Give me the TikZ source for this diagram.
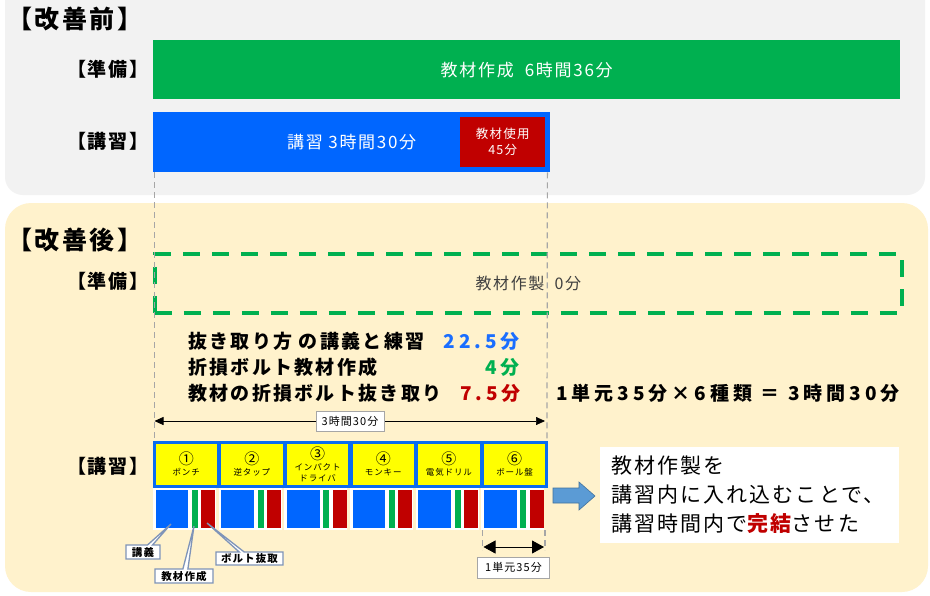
\documentclass[tikz,border=0pt]{standalone}
\usepackage{fontspec}
\setmainfont{Noto Sans CJK JP}[LetterSpace=10]
\usetikzlibrary{shapes.callouts,arrows.meta}
\definecolor{panelgray}{HTML}{F2F2F2}
\definecolor{cream}{HTML}{FFF2CC}
\definecolor{gbar}{HTML}{00B050}
\definecolor{bbar}{HTML}{0066FF}
\definecolor{rbar}{HTML}{C00000}
\definecolor{ybox}{HTML}{FFFF00}
\definecolor{yborder}{HTML}{0A6CF0}
\definecolor{guide}{HTML}{A6A6A6}
\definecolor{callb}{HTML}{7F94B8}
\definecolor{arrowfill}{HTML}{5B9BD5}
\definecolor{arrowline}{HTML}{41719C}
\definecolor{amtblue}{HTML}{1A6EFF}
\definecolor{dimgray}{HTML}{404040}
\begin{document}
\begin{tikzpicture}[x=1pt,y=-1pt,
 head/.style={font=\bfseries\fontsize{25}{28}\selectfont, inner sep=0, anchor=west},
 rowlbl/.style={font=\bfseries\fontsize{19}{22}\selectfont, inner sep=0, anchor=east},
 bar/.style={anchor=north west, inner sep=0, text=white, font=\fontsize{17}{20}\selectfont},
 guideline/.style={guide, line width=1.2, dash pattern=on 6 off 4},
 detail/.style={font=\bfseries\fontsize{19}{22}\selectfont\addfontfeatures{LetterSpace=12}, inner sep=0},
 amount/.style={font=\bfseries\fontsize{19}{22}\selectfont\addfontfeatures{LetterSpace=21}, inner sep=0},
 tool/.style={draw=yborder, line width=2.5, fill=ybox, minimum width=64, minimum height=44, anchor=north west, inner sep=0, align=center, font=\fontsize{8.5}{11}\selectfont},
 dimlbl/.style={draw=guide, fill=white, line width=0.8, font=\fontsize{11}{13}\selectfont, inner xsep=3, inner ysep=2},
 callbox/.style={rectangle callout, draw=callb, line width=1.3, fill=white, font=\bfseries\fontsize{10.5}{12}\selectfont, inner xsep=2, inner ysep=1.5, callout pointer width=5},
 dimarrow/.style={{Triangle[length=9,width=8]}-{Triangle[length=9,width=8]}, line width=0.7},
]
\useasboundingbox (0,0) rectangle (930,595);
\fill[white] (0,0) rectangle (930,595);
% panels
\fill[panelgray, rounded corners=18] (5,-30) rectangle (925,195);
\fill[cream, rounded corners=26] (5,203) rectangle (928,592);

% ===== before =====
\node[head] (hbefore) at (7,19) {【改善前】};
\node[rowlbl] (lprep1) at (149,69) {【準備】};
\node[rowlbl] (llec1) at (149,141) {【講習】};
\node[bar, fill=gbar, minimum width=747, minimum height=59] (prep1) at (153,40) {教材作成\ \ 6時間36分};
\node[bar, fill=bbar, minimum width=397, minimum height=60] (lec1) at (153,112) {講習 3時間30分};
\node[bar, fill=rbar, minimum width=85, minimum height=50, align=center, font=\fontsize{12.5}{16}\selectfont] (use1) at (460,117) {教材使用\\45分};

% ===== after =====
\node[head] (hafter) at (7,240) {【改善後】};
\node[rowlbl] (lprep2) at (149,281) {【準備】};
\node[draw=gbar, line width=3.8, dash pattern=on 17 off 12, minimum width=747, minimum height=59, anchor=north west, inner sep=0, text=dimgray, font=\fontsize{16}{19}\selectfont] (prep2) at (153,252) {教材作製\ \ 0分};

\node[detail, anchor=west] (d1) at (188,341) {抜き取り方 の講義と練習};
\node[detail, anchor=west] (d2) at (188,367) {折損ボルト教材作成};
\node[detail, anchor=west] (d3) at (188,393) {教材の折損ボルト抜き取り};
\node[amount, anchor=east, text=amtblue] (a1) at (520,341) {22.5分};
\node[amount, anchor=east, text=gbar] (a2) at (520,367) {4分};
\node[amount, anchor=east, text=rbar] (a3) at (521,393) {7.5分};
\node[amount, anchor=west] (total) at (556,393) {1単元35分×6種類\ ＝\ 3時間30分};

\node[rowlbl] (llec2) at (149,466) {【講習】};

% tool boxes
\foreach \i/\n/\t in {0/①/ポンチ, 1/②/逆タップ, 2/③/{インパクト\\ドライバ}, 3/④/モンキー, 4/⑤/電気ドリル, 5/⑥/ボール盤}{
  \node[tool] (t\i) at ({153+65.67*\i},441) {{\fontsize{15}{15}\selectfont \n}\\\t};
}

% guide lines
\coordinate (gl) at (154.5,441);
\coordinate (gr) at (547,441);
\draw[guideline] (lec1.south west) ++(1.5,0) -- (gl);
\draw[guideline] (lec1.south east) ++(-3,0) -- (gr);

% overall dimension
\coordinate (dl) at (154.5,421);
\coordinate (dr) at (545,421);
\draw[dimarrow] (dl) -- (dr);
\node[dimlbl, minimum width=68, minimum height=20] (dimtxt) at (350,421) {3時間30分};

% unit bars
\foreach \i in {0,...,5}{
  \pgfmathsetmacro\ux{153+65.67*\i}
  \fill[white] (\ux,488) rectangle ++(63,42);
  \node[fill=bbar, inner sep=0, minimum width=32.5, minimum height=38.5, anchor=north west] (b\i) at (\ux+2.5,489.5) {};
  \node[fill=gbar, inner sep=0, minimum width=6, minimum height=38.5, anchor=north west] (g\i) at (\ux+38.7,489.5) {};
  \node[fill=rbar, inner sep=0, minimum width=14, minimum height=38.5, anchor=north west] (r\i) at (\ux+48,489.5) {};
}

% callouts
\coordinate (pb) at (171,524);
\coordinate (pg) at (194,526);
\coordinate (pr) at (207,523);
\node[callbox, callout absolute pointer=(pb), minimum width=34, minimum height=14] (cb) at (143,552) {講義};
\node[callbox, callout absolute pointer=(pg), minimum width=58, minimum height=14] (cg) at (184,576) {教材作成};
\node[callbox, callout absolute pointer=(pr), minimum width=67, minimum height=13] (cr) at (249.5,558.5) {ボルト抜取};

% unit dimension
\coordinate (ul0) at (482.5,530);
\coordinate (ul1) at (482.5,550);
\coordinate (ur0) at (545,530);
\coordinate (ur1) at (545,550);
\draw[guideline] (ul0) -- (ul1);
\draw[guideline] (ur0) -- (ur1);
\coordinate (ua) at (483.5,547);
\coordinate (ub) at (544,547);
\draw[{Triangle[length=12,width=13]}-{Triangle[length=12,width=13]}, line width=0.8] (ua) -- (ub);
\node[dimlbl, minimum width=72, minimum height=21] (unitlbl) at (513.5,567.5) {1単元35分};

% block arrow
\draw[fill=arrowfill, draw=arrowline, line width=0.6] (553,488) -- (579,488) -- (579,482) -- (595,496) -- (579,510) -- (579,503) -- (553,503) -- cycle;

% message box
\node[fill=white, anchor=north west, minimum width=299, minimum height=96, text width=277, inner xsep=11, inner ysep=0, align=left, font=\fontsize{21}{29}\selectfont] (msg) at (600,447) {教材作製を\\講習内に入れ込むことで、\\講習時間内で\textcolor{rbar}{\bfseries 完結}させた};
\end{tikzpicture}
\end{document}
